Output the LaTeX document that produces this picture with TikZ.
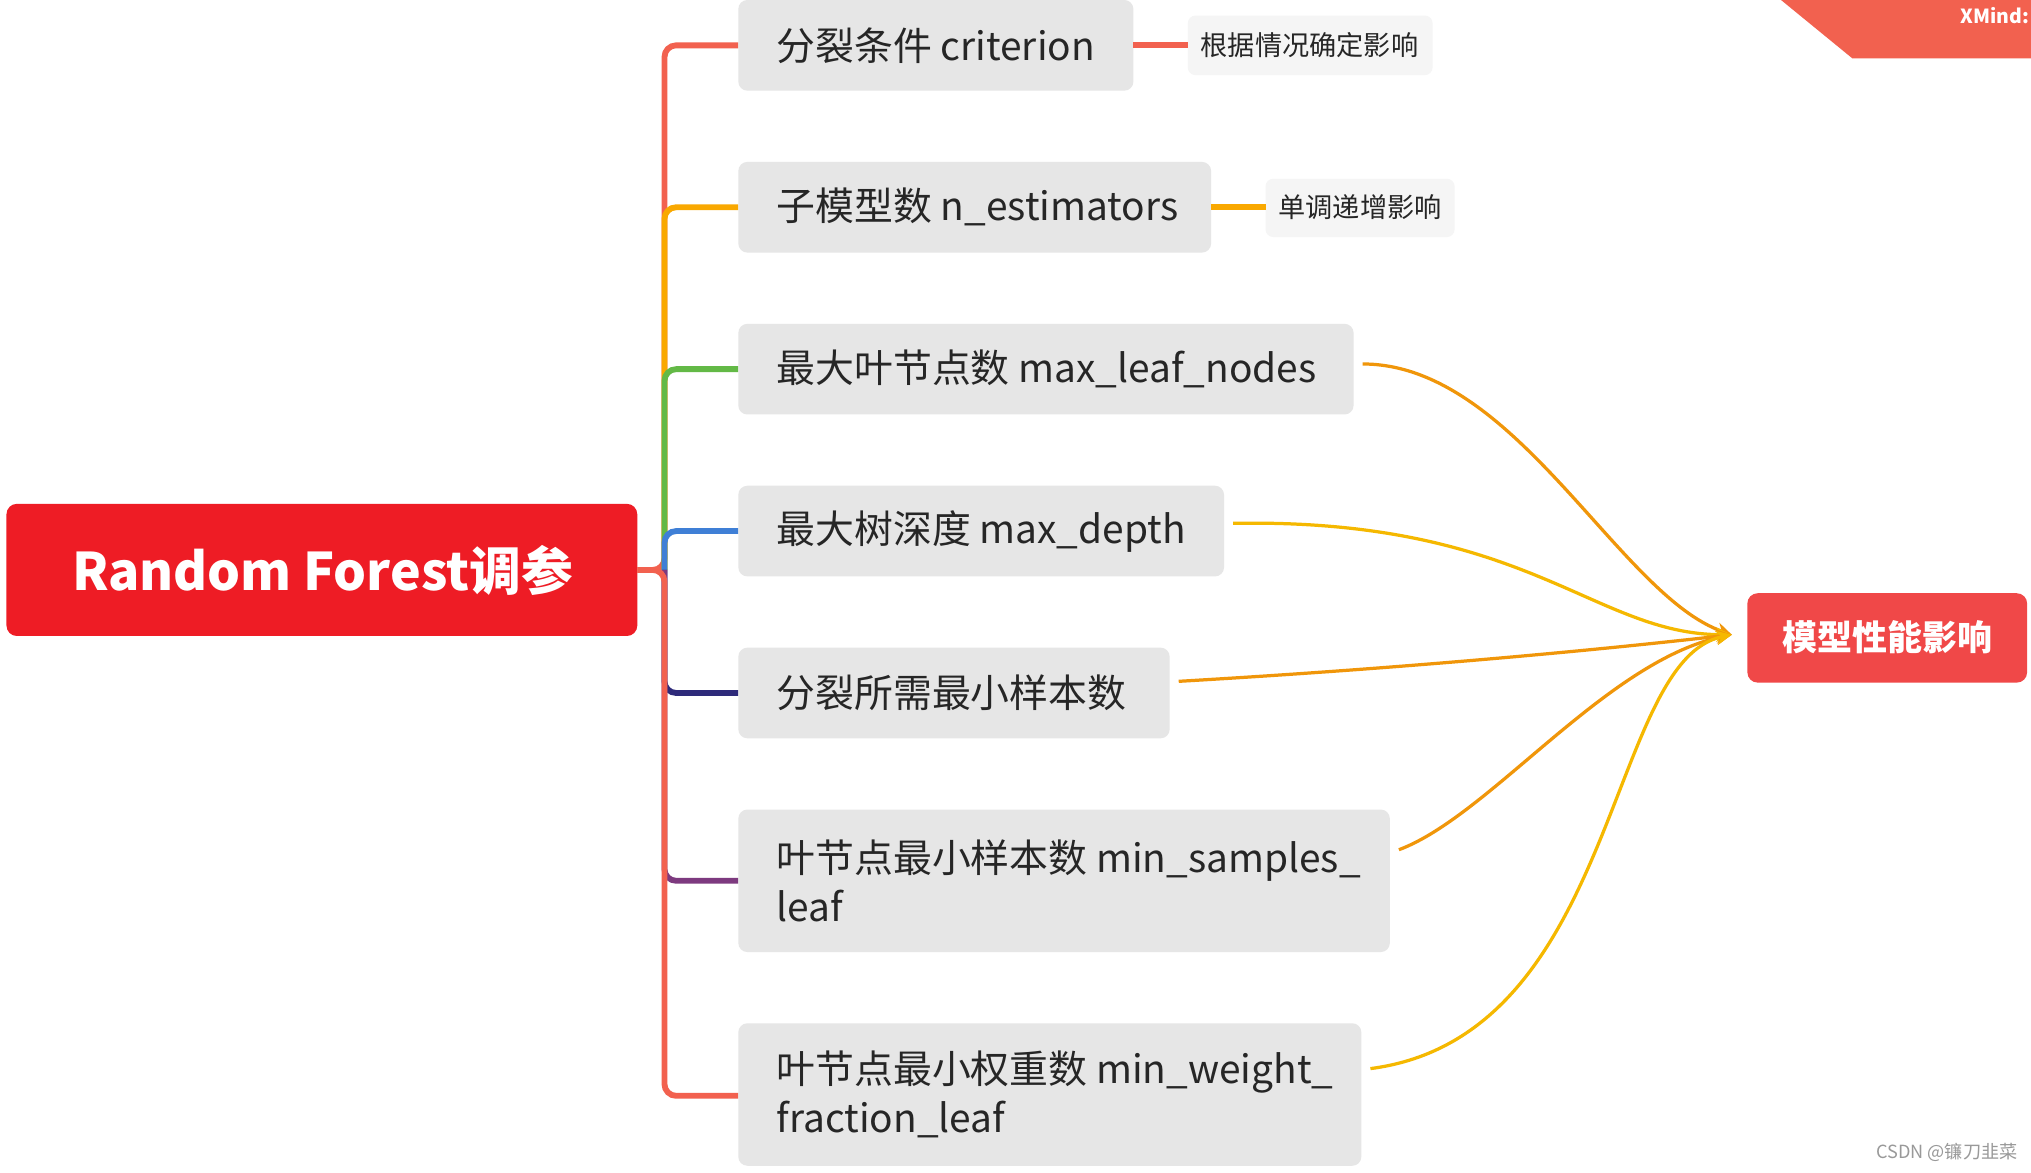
\documentclass[tikz,border=0pt]{standalone}
\usepackage{fontspec}
\setmainfont{Noto Sans CJK SC}
\usetikzlibrary{arrows.meta}
\definecolor{cred}{HTML}{F2614F}
\definecolor{corange}{HTML}{F9A800}
\definecolor{cgreen}{HTML}{63B946}
\definecolor{cblue}{HTML}{3F7FD6}
\definecolor{cnavy}{HTML}{2E2A7A}
\definecolor{cpurple}{HTML}{7D3A7F}
\definecolor{rootred}{HTML}{EE1C25}
\definecolor{tgtred}{HTML}{F04848}
\definecolor{nodegray}{HTML}{E6E6E6}
\definecolor{curveA}{HTML}{F0960A}
\definecolor{curveB}{HTML}{F5B800}
\begin{document}
\begin{tikzpicture}[x=1pt,y=-1pt,
  branch/.style={line width=4.5pt,rounded corners=9pt},
  item/.style={fill=nodegray,rounded corners=7pt,draw=none},
  itemtext/.style={anchor=west,font=\fontsize{30}{38}\selectfont,align=left,text=black!85},
  note/.style={fill=black!5,rounded corners=6pt,font=\fontsize{21}{25}\selectfont,text=black!85},
  curve/.style={line width=2.5pt,-{Stealth[length=12pt,width=11pt]}}]
\useasboundingbox (0,0) rectangle (1568,905);
\fill[white] (0,0) rectangle (1568,905);
% XMind corner
\fill[cred] (1375,0) -- (1568,0) -- (1568,45) -- (1430,45) -- cycle;
\node[text=white,font=\bfseries\fontsize{15}{18}\selectfont] (xm) at (1540,12) {XMind:};
% root
\fill[rootred,rounded corners=8pt] (5,389) rectangle (492,491);
\node[text=white,font=\bfseries\fontsize{40}{48}\selectfont] (root) at (249,440) {Random Forest调参};
\coordinate (j) at (513,440);
% branches
\draw[branch,cred] (492,440) -- (j) -- (513,35) -- (570,35);
\draw[branch,corange] (j) -- (513,160) -- (570,160);
\draw[branch,cgreen] (j) -- (513,285) -- (570,285);
\draw[branch,cblue] (j) -- (513,410) -- (570,410);
\draw[branch,cnavy] (j) -- (513,535) -- (570,535);
\draw[branch,cpurple] (j) -- (513,680) -- (570,680);
\draw[branch,cred] (492,440) -- (j) -- (513,846) -- (570,846);
% items
\fill[item] (570,0) rectangle (875,70);
\node[itemtext] (n1) at (596,35) {分裂条件 criterion};
\fill[item] (570,125) rectangle (935,195);
\node[itemtext] (n2) at (596,160) {子模型数 n\_estimators};
\fill[item] (570,250) rectangle (1045,320);
\node[itemtext] (n3) at (596,285) {最大叶节点数 max\_leaf\_nodes};
\fill[item] (570,375) rectangle (945,445);
\node[itemtext] (n4) at (596,410) {最大树深度 max\_depth};
\fill[item] (570,500) rectangle (903,570);
\node[itemtext] (n5) at (596,535) {分裂所需最小样本数};
\fill[item] (570,625) rectangle (1073,735);
\node[itemtext] (n6) at (596,680) {叶节点最小样本数 min\_samples\_\\leaf};
\fill[item] (570,790) rectangle (1051,900);
\node[itemtext] (n7) at (596,845) {叶节点最小权重数 min\_weight\_\\fraction\_leaf};
% notes
\fill[black!4,rounded corners=6pt] (917,12) rectangle (1106,58);
\node[note,fill=none] (a1) at (1011,35) {根据情况确定影响};
\draw[line width=4.5pt,cred] (875,35) -- (917,35);
\fill[black!4,rounded corners=6pt] (977,138) rectangle (1123,183);
\node[note,fill=none] (a2) at (1050,160) {单调递增影响};
\draw[line width=4.5pt,corange] (935,160) -- (977,160);
% target
\fill[tgtred,rounded corners=8pt] (1349,458) rectangle (1565,527);
\node[text=white,font=\bfseries\fontsize{27}{32}\selectfont] (t) at (1457,492) {模型性能影响};
\coordinate (tip) at (1337,490);
% curves
\draw[curve,curveA] (1052,281) .. controls (1170,281) and (1250,460) .. (tip);
\draw[curve,curveB] (952,404) .. controls (1180,400) and (1230,490) .. (tip);
\draw[curve,curveA] (910,526) .. controls (1100,515) and (1250,500) .. (tip);
\draw[curve,curveA] (1080,656) .. controls (1150,630) and (1240,510) .. (tip);
\draw[curve,curveB] (1058,825) .. controls (1250,800) and (1240,510) .. (tip);
% watermark
\node[text=black!40,font=\fontsize{14}{16}\selectfont] (wm) at (1503,890) {CSDN @镰刀韭菜};
\end{tikzpicture}
\end{document}
